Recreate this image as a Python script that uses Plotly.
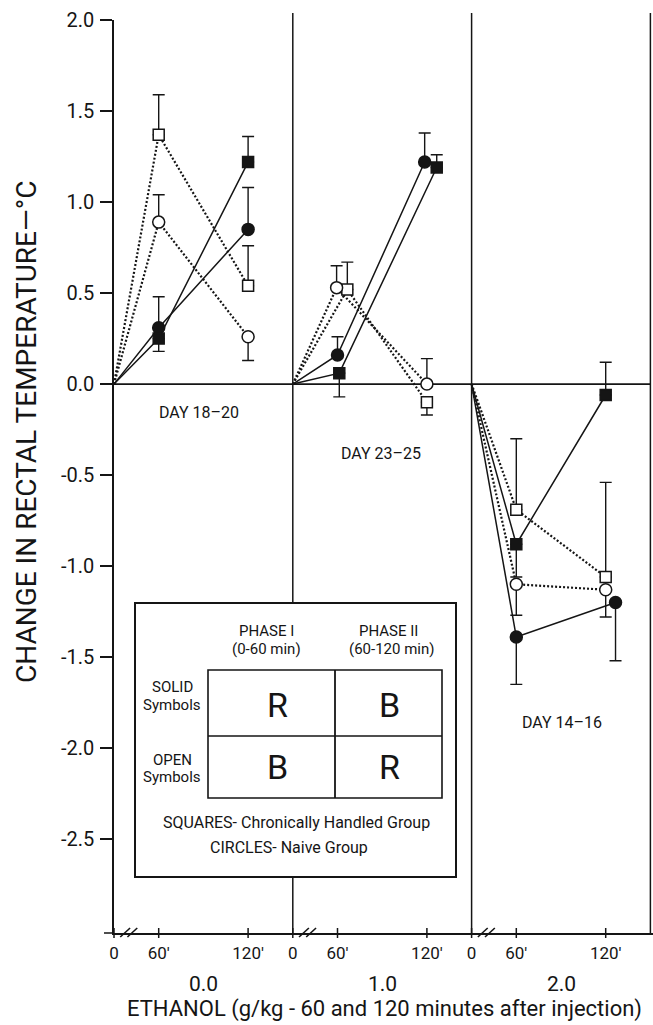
import plotly.graph_objects as go

# ---------------- data ----------------
panel_labels = ["DAY 18–20", "DAY 23–25", "DAY 14–16"]
dose_labels = ["0.0", "1.0", "2.0"]
times = [0, 60, 120]
time_labels = ["0", "60'", "120'"]
y_ticks = [2.0, 1.5, 1.0, 0.5, 0.0, -0.5, -1.0, -1.5, -2.0, -2.5]
y_tick_labels = ["2.0", "1.5", "1.0", "0.5", "0.0", "-0.5", "-1.0", "-1.5", "-2.0", "-2.5"]

# mean change at 60' and 120' for each panel (dose)
solid_squares = [[0.25, 1.22], [0.06, 1.19], [-0.88, -0.06]]
solid_circles = [[0.31, 0.85], [0.16, 1.22], [-1.39, -1.20]]
open_squares = [[1.37, 0.54], [0.52, -0.10], [-0.69, -1.06]]
open_circles = [[0.89, 0.26], [0.53, 0.00], [-1.10, -1.13]]
# standard errors (positive: drawn upward, negative: drawn downward)
solid_squares_se = [[-0.07, 0.14], [-0.13, 0.07], [-0.18, 0.18]]
solid_circles_se = [[0.17, 0.23], [0.10, 0.16], [-0.26, -0.32]]
open_squares_se = [[0.22, 0.22], [0.15, -0.07], [0.39, 0.52]]
open_circles_se = [[0.15, -0.13], [0.12, 0.14], [-0.17, -0.15]]

# ---------------- layout helpers ----------------
FONT = "Roboto, 'Liberation Sans', Arial, sans-serif"
INK = "#151515"
L, T, W, H = 114, 20, 539, 913
PANEL = 4.0                          # axis units per panel
TIME_POS = {0: 0.0, 60: 1.0, 120: 3.0}  # broken time axis inside a panel
XMAX = W / 44.7
YMIN, YMAX = -3.016, 2.0005


def xp(px):
    return (px - L) / W


def yp(py):
    return (T + H - py) / H


def xu(u):
    return u / XMAX


def yv(v):
    return (v - YMIN) / (YMAX - YMIN)


# small horizontal nudges so overlapping symbols stay visible (axis units)
nudge = {
    ("ss", 1): [0.04, 0.22], ("sc", 1): [0.0, -0.05], ("os", 1): [0.22, 0.0], ("oc", 1): [-0.02, 0.0],
    ("sc", 2): [0.0, 0.22],
}

series = [
    ("ss", solid_squares, solid_squares_se, "square", True),
    ("sc", solid_circles, solid_circles_se, "circle", True),
    ("os", open_squares, open_squares_se, "square", False),
    ("oc", open_circles, open_circles_se, "circle", False),
]

fig = go.Figure()

# lines first
for key, vals, se, sym, solid in series:
    for p in range(3):
        dx = nudge.get((key, p), [0.0, 0.0])
        xs = [p * PANEL + TIME_POS[0],
              p * PANEL + TIME_POS[60] + dx[0],
              p * PANEL + TIME_POS[120] + dx[1]]
        ys = [0.0] + vals[p]
        fig.add_trace(go.Scatter(
            x=xs, y=ys, mode="lines", showlegend=False, hoverinfo="skip",
            line=dict(color=INK, width=1.5 if solid else 2.2,
                      dash="solid" if solid else "2px,2px"),
        ))

# markers with error bars on top
for key, vals, se, sym, solid in series:
    for p in range(3):
        dx = nudge.get((key, p), [0.0, 0.0])
        xs = [p * PANEL + TIME_POS[60] + dx[0], p * PANEL + TIME_POS[120] + dx[1]]
        up = [e if e > 0 else 0 for e in se[p]]
        dn = [-e if e < 0 else 0 for e in se[p]]
        fig.add_trace(go.Scatter(
            x=xs, y=vals[p], mode="markers", showlegend=False,
            marker=dict(symbol=sym, size=12 if sym == "circle" else 11,
                        color=INK if solid else "white",
                        line=dict(color=INK, width=1.5)),
            error_y=dict(type="data", symmetric=False, array=up, arrayminus=dn,
                         color=INK, thickness=1.4, width=6),
        ))

shapes = []
line = dict(color=INK, width=1.5)
# zero line
shapes.append(dict(type="line", xref="paper", yref="paper", x0=0, x1=xu(12.0),
                   y0=yv(0), y1=yv(0), line=dict(color=INK, width=1.8), layer="below"))
# panel dividers and right border
for u in (PANEL, 2 * PANEL, 3 * PANEL):
    shapes.append(dict(type="line", xref="paper", yref="paper", x0=xu(u), x1=xu(u),
                       y0=0, y1=yp(13), line=line, layer="below"))
# x axis extension to the left
shapes.append(dict(type="line", xref="paper", yref="paper", x0=xp(104), x1=0,
                   y0=0, y1=0, line=line, layer="below"))
# tick crosses and axis breaks
tick_u = []
for p in range(3):
    for t in times:
        u = p * PANEL + TIME_POS[t]
        tick_u.append(u)
        shapes.append(dict(type="line", xref="paper", yref="paper", x0=xu(u), x1=xu(u),
                           y0=-5 / H, y1=5 / H, line=line, layer="below"))
    for off in (0.14, 0.30):
        u0 = p * PANEL + off
        shapes.append(dict(type="line", xref="paper", yref="paper",
                           x0=xu(u0), x1=xu(u0 + 0.22), y0=-4 / H, y1=5 / H,
                           line=dict(color=INK, width=1.6), layer="below"))

# legend box
shapes.append(dict(type="rect", xref="paper", yref="paper", x0=xp(135), x1=xp(456),
                   y0=yp(877), y1=yp(603), fillcolor="white",
                   line=dict(color=INK, width=2), layer="below"))
shapes.append(dict(type="rect", xref="paper", yref="paper", x0=xp(208), x1=xp(442),
                   y0=yp(798), y1=yp(670), line=dict(color=INK, width=1.6), layer="below"))
shapes.append(dict(type="line", xref="paper", yref="paper", x0=xp(335), x1=xp(335),
                   y0=yp(798), y1=yp(670), line=dict(color=INK, width=1.8), layer="below"))
shapes.append(dict(type="line", xref="paper", yref="paper", x0=xp(208), x1=xp(442),
                   y0=yp(736), y1=yp(736), line=dict(color=INK, width=1.6), layer="below"))

annotations = []


def txt(text, px, py, size, **kw):
    annotations.append(dict(text=text, x=xp(px), y=yp(py), xref="paper", yref="paper",
                            showarrow=False, xanchor="center", yanchor="middle",
                            font=dict(family=FONT, size=size, color=INK), **kw))


# panel labels
for p, (lab, pos) in enumerate(zip(panel_labels, [(199, 413), (381, 453), (562, 722)])):
    txt(lab, pos[0], pos[1], 16)
# dose labels
for p, lab in enumerate(dose_labels):
    annotations.append(dict(text=lab, x=xu(p * PANEL + 2.0), y=yp(984), xref="paper", yref="paper",
                            showarrow=False, xanchor="center", yanchor="middle",
                            font=dict(family=FONT, size=21, color=INK)))
txt("ETHANOL (g/kg - 60 and 120 minutes after injection)", 384, 1009, 22)
txt("CHANGE IN RECTAL TEMPERATURE\u2014°C", 26, 432, 28, textangle=-90)

# legend texts
txt("PHASE I", 266, 631, 15)
txt("(0-60 min)", 266, 649, 15)
txt("PHASE II", 388, 631, 15)
txt("(60-120 min)", 391, 649, 15)
txt("SOLID", 172, 687, 15)
txt("Symbols", 172, 705, 15)
txt("OPEN", 172, 760, 15)
txt("Symbols", 172, 777, 15)
txt("R", 277, 705, 34)
txt("B", 389, 705, 34)
txt("B", 277, 767, 34)
txt("R", 389, 767, 34)
txt("SQUARES- Chronically Handled Group", 296, 822, 16)
txt("CIRCLES- Naive Group", 289, 847, 16)

fig.update_layout(
    width=653, height=1025, autosize=False,
    margin=dict(l=L, r=653 - L - W, t=T, b=1025 - T - H, pad=0),
    paper_bgcolor="white", plot_bgcolor="white",
    font=dict(family=FONT, color=INK),
    showlegend=False,
    shapes=shapes, annotations=annotations,
    xaxis=dict(range=[0, XMAX], showgrid=False, zeroline=False, showline=True,
               linecolor=INK, linewidth=1.6, ticks="", tickvals=tick_u,
               ticktext=time_labels * 3, tickfont=dict(family=FONT, size=17, color=INK),
               ticklabelstandoff=4, fixedrange=True),
    yaxis=dict(range=[YMIN, YMAX], showgrid=False, zeroline=False, showline=True,
               linecolor=INK, linewidth=1.6, ticks="outside", ticklen=12, tickwidth=1.5,
               tickcolor=INK, tickvals=y_ticks, ticktext=y_tick_labels,
               tickfont=dict(family=FONT, size=20, color=INK), ticklabelstandoff=2,
               fixedrange=True),
)

fig.write_html("out.html")
